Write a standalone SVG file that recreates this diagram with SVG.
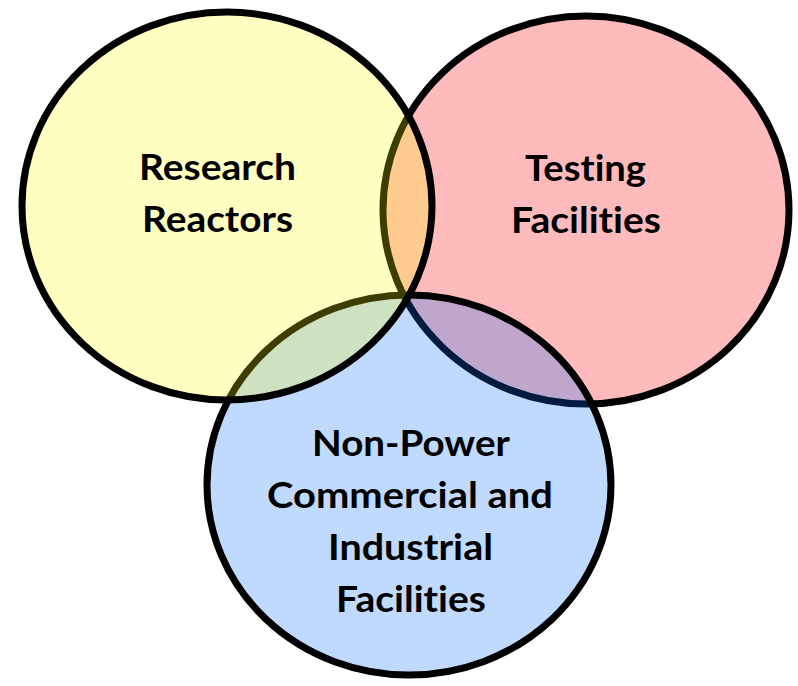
<svg xmlns="http://www.w3.org/2000/svg" width="798" height="686" viewBox="0 0 798 686">
  <style>
    .set { stroke: #000; stroke-width: 7; }
    .label { font-family: Lato, "Open Sans", "Liberation Sans", sans-serif; font-weight: bold; font-size: 37px; fill: #000; text-anchor: middle; font-variant-ligatures: none; }
  </style>
  <rect width="798" height="686" fill="#fff"/>
  <!-- Sets drawn bottom to top: translucent fills tint the outlines beneath -->
  <g id="testing-facilities">
    <ellipse class="set" cx="586" cy="210" rx="203" ry="194" fill="#ff0000" fill-opacity="0.267"/>
  </g>
  <g id="non-power-facilities">
    <ellipse class="set" cx="409" cy="485" rx="202" ry="190" fill="#0068ff" fill-opacity="0.25"/>
  </g>
  <g id="research-reactors">
    <ellipse class="set" cx="227" cy="206" rx="205" ry="194" fill="#ffff00" fill-opacity="0.24"/>
  </g>
  <g id="labels">
    <text class="label" x="217.5" y="180" textLength="157" lengthAdjust="spacingAndGlyphs">Research</text>
    <text class="label" x="217.5" y="232" textLength="151" lengthAdjust="spacingAndGlyphs">Reactors</text>
    <text class="label" x="585.5" y="181" textLength="121" lengthAdjust="spacingAndGlyphs">Testing</text>
    <text class="label" x="586" y="233" textLength="150" lengthAdjust="spacingAndGlyphs">Facilities</text>
    <text class="label" x="411" y="456" textLength="198" lengthAdjust="spacingAndGlyphs">Non-Power</text>
    <text class="label" x="410" y="508" textLength="286" lengthAdjust="spacingAndGlyphs">Commercial and</text>
    <text class="label" x="410.5" y="560" textLength="165" lengthAdjust="spacingAndGlyphs">Industrial</text>
    <text class="label" x="411" y="612" textLength="150" lengthAdjust="spacingAndGlyphs">Facilities</text>
  </g>
</svg>
